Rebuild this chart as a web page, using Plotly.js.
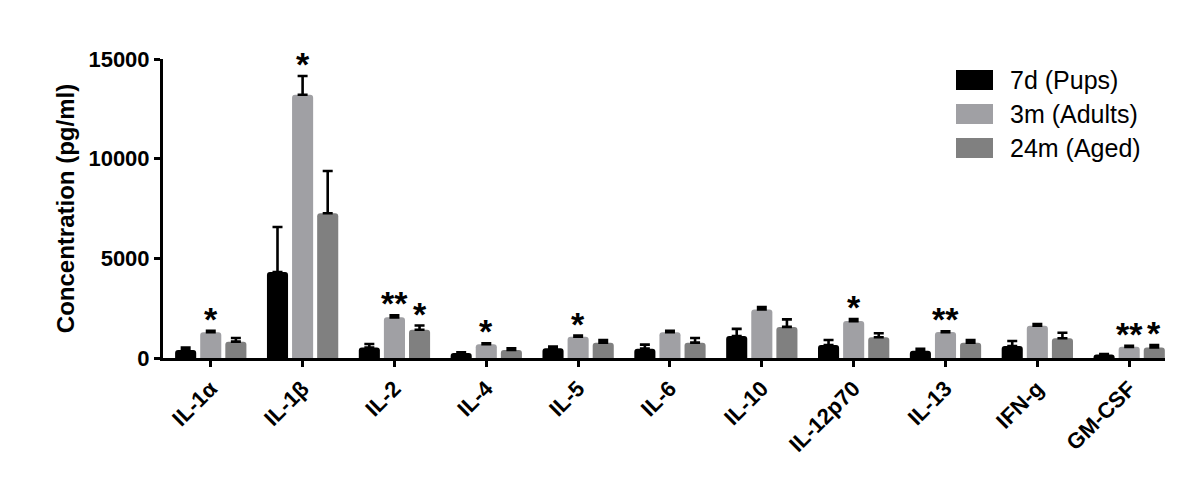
<!DOCTYPE html>
<html>
<head>
<meta charset="utf-8">
<script src="https://cdn.plot.ly/plotly-3.0.1.min.js"></script>
<style>html,body{margin:0;padding:0;background:#fff;}#chart{width:1191px;height:482px;}</style>
</head>
<body>
<div id="chart"></div>
<script>
var categories = ['IL-1α','IL-1β','IL-2','IL-4','IL-5','IL-6','IL-10','IL-12p70','IL-13','IFN-g','GM-CSF'];
var seriesNames = ['7d (Pups)','3m (Adults)','24m (Aged)'];
var pups      = [400, 4310, 530, 250, 490, 470, 1100, 650, 360, 600, 170];
var pupsErr   = [130, 2260, 170, 40, 80, 200, 360, 250, 100, 250, 30];
var adults    = [1290, 13210, 2040, 690, 1070, 1290, 2430, 1850, 1300, 1620, 560];
var adultsErr = [80, 940, 100, 50, 50, 80, 120, 110, 40, 80, 50];
var aged      = [820, 7260, 1420, 400, 770, 770, 1560, 1040, 770, 990, 530];
var agedErr   = [180, 2120, 210, 90, 130, 230, 380, 200, 130, 280, 120];
var adultsStars = ['*','*','**','*','*','','','*','**','','**'];
var agedStars   = ['','','*','','','','','','','','*'];
var yTicks = [0, 5000, 10000, 15000];

var colors = ['#000000','#a0a0a4','#808080'];
var bargap = 0.18, bargroupgap = 0.16;
var FONT = 'Arial, "Liberation Sans", sans-serif';

function barTrace(name, y, err, color) {
  return {
    type: 'bar', name: name, x: categories, y: y,
    marker: {color: color, line: {width: 0}, cornerradius: 3},
    error_y: {type: 'data', symmetric: false, array: err, arrayminus: err.map(function(){return 0;}),
              color: '#000', thickness: 2.6, width: 5},
    showlegend: false, hoverinfo: 'x+y'
  };
}
var data = [
  barTrace(seriesNames[0], pups, pupsErr, colors[0]),
  barTrace(seriesNames[1], adults, adultsErr, colors[1]),
  barTrace(seriesNames[2], aged, agedErr, colors[2])
];

var slot = (1 - bargap) / 3;
var annotations = [];
function addStars(stars, vals, errs, offset) {
  stars.forEach(function(s, i) {
    if (!s) return;
    annotations.push({
      x: i + offset, y: vals[i] + errs[i], xref: 'x', yref: 'y',
      text: s, showarrow: false, yanchor: 'bottom', xanchor: 'center', yshift: -9,
      font: {family: FONT, size: 34, color: '#000', weight: 'bold'}
    });
  });
}
addStars(adultsStars, adults, adultsErr, 0);
addStars(agedStars, aged, agedErr, slot);

// custom legend
var shapes = [];
var legX0 = 956, legY0 = 80, legDy = 34;
seriesNames.forEach(function(n, k) {
  var yc = legY0 + k * legDy;
  shapes.push({type: 'rect', xref: 'paper', yref: 'paper',
    x0: (legX0 - 163) / 1002, x1: (legX0 + 37 - 163) / 1002,
    y0: (358 - (yc + 10)) / 299, y1: (358 - (yc - 10)) / 299,
    fillcolor: colors[k], line: {width: 0}});
  annotations.push({xref: 'paper', yref: 'paper', x: (legX0 + 52 - 163) / 1002, y: (358 - yc) / 299,
    xanchor: 'left', yanchor: 'middle', text: n, showarrow: false,
    font: {family: FONT, size: 25, color: '#000'}});
});

var layout = {
  width: 1191, height: 482,
  margin: {l: 163, r: 26, t: 59, b: 124},
  paper_bgcolor: '#fff', plot_bgcolor: '#fff',
  barmode: 'group', bargap: bargap, bargroupgap: bargroupgap,
  font: {family: FONT, color: '#000'},
  xaxis: {
    type: 'category', range: [-0.52, 10.39],
    showline: true, linecolor: '#000', linewidth: 3,
    ticks: 'outside', ticklen: 6, tickwidth: 3, tickcolor: '#000',
    tickangle: -45, showgrid: false, zeroline: false,
    tickfont: {family: FONT, size: 22, color: '#000', weight: 'bold'}
  },
  yaxis: {
    range: [0, 15000], tickvals: yTicks, ticktext: yTicks.map(String),
    showline: true, linecolor: '#000', linewidth: 3,
    ticks: 'outside', ticklen: 6, tickwidth: 3, tickcolor: '#000',
    showgrid: false, zeroline: false,
    tickfont: {family: FONT, size: 22, color: '#000', weight: 'bold'},
    title: {text: 'Concentration (pg/ml)', standoff: 8,
            font: {family: FONT, size: 24, color: '#000', weight: 'bold'}}
  },
  annotations: annotations,
  shapes: shapes,
  showlegend: false
};
Plotly.newPlot('chart', data, layout, {displayModeBar: false, staticPlot: true});
</script>
</body>
</html>
